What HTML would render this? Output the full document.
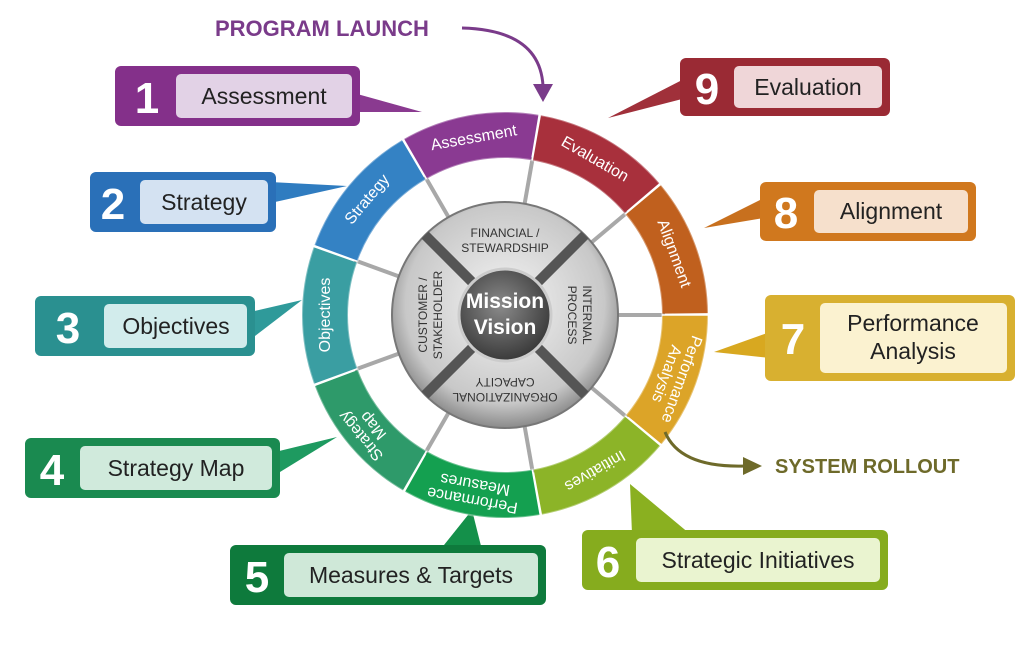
<!DOCTYPE html>
<html><head><meta charset="utf-8"><style>
html,body{margin:0;padding:0;background:#fff;}
svg{display:block;font-family:"Liberation Sans",sans-serif;}
</style></head><body>
<svg width="1024" height="649" viewBox="0 0 1024 649" xmlns="http://www.w3.org/2000/svg">
<defs>
<radialGradient id="hub" cx="50%" cy="45%" r="55%"><stop offset="0" stop-color="#f4f4f4"/><stop offset="0.8" stop-color="#c8c8c8"/><stop offset="1" stop-color="#8a8a8a"/></radialGradient>
<radialGradient id="mv" cx="45%" cy="40%" r="60%"><stop offset="0" stop-color="#8a8a8a"/><stop offset="1" stop-color="#3a3a3a"/></radialGradient>
</defs>

<g>
<polygon points="350,92 360,112 422,112" fill="#8a3a90"/>
<polygon points="270,182 275,202 347,186" fill="#2f7cc0"/>
<polygon points="250,312 255,336 302,300" fill="#2f9a9a"/>
<polygon points="275,452 280,472 337,437" fill="#1e9a60"/>
<polygon points="440,550 482,550 472,510" fill="#14904a"/>
<polygon points="632,534 690,534 630,484" fill="#8ab020"/>
<polygon points="770,332 770,358 714,352" fill="#d8a820"/>
<polygon points="764,198 764,218 704,228" fill="#c8701e"/>
<polygon points="686,78 686,98 608,118" fill="#a0303a"/>
</g>

<g>
<rect x="115" y="66" width="245" height="60" rx="6" fill="#84308a"/>
<text x="147" y="113" font-size="44" font-weight="bold" fill="#fff" text-anchor="middle">1</text>
<rect x="176" y="74" width="176" height="44" rx="5" fill="#e2d2e6"/>
<text x="264" y="104" font-size="23" fill="#222" text-anchor="middle">Assessment</text>

<rect x="90" y="172" width="186" height="60" rx="6" fill="#2a70b8"/>
<text x="113" y="219" font-size="44" font-weight="bold" fill="#fff" text-anchor="middle">2</text>
<rect x="140" y="180" width="128" height="44" rx="5" fill="#d4e2f2"/>
<text x="204" y="210" font-size="23" fill="#222" text-anchor="middle">Strategy</text>

<rect x="35" y="296" width="220" height="60" rx="6" fill="#2a9090"/>
<text x="68" y="343" font-size="44" font-weight="bold" fill="#fff" text-anchor="middle">3</text>
<rect x="104" y="304" width="143" height="44" rx="5" fill="#d2ecec"/>
<text x="176" y="334" font-size="23" fill="#222" text-anchor="middle">Objectives</text>

<rect x="25" y="438" width="255" height="60" rx="6" fill="#1a8a50"/>
<text x="52" y="485" font-size="44" font-weight="bold" fill="#fff" text-anchor="middle">4</text>
<rect x="80" y="446" width="192" height="44" rx="5" fill="#d0eadc"/>
<text x="176" y="476" font-size="23" fill="#222" text-anchor="middle">Strategy Map</text>

<rect x="230" y="545" width="316" height="60" rx="6" fill="#0e7a3c"/>
<text x="257" y="592" font-size="44" font-weight="bold" fill="#fff" text-anchor="middle">5</text>
<rect x="284" y="553" width="254" height="44" rx="5" fill="#cfe8d8"/>
<text x="411" y="583" font-size="23" fill="#222" text-anchor="middle">Measures &amp; Targets</text>

<rect x="582" y="530" width="306" height="60" rx="6" fill="#86ac1e"/>
<text x="608" y="577" font-size="44" font-weight="bold" fill="#fff" text-anchor="middle">6</text>
<rect x="636" y="538" width="244" height="44" rx="5" fill="#eaf4d0"/>
<text x="758" y="568" font-size="23" fill="#222" text-anchor="middle">Strategic Initiatives</text>

<rect x="765" y="295" width="250" height="86" rx="6" fill="#d8b030"/>
<text x="793" y="354" font-size="44" font-weight="bold" fill="#fff" text-anchor="middle">7</text>
<rect x="820" y="303" width="187" height="70" rx="5" fill="#fbf2d0"/>
<text x="913" y="331" font-size="23" fill="#222" text-anchor="middle">Performance</text>
<text x="913" y="359" font-size="23" fill="#222" text-anchor="middle">Analysis</text>

<rect x="760" y="182" width="216" height="59" rx="6" fill="#d0781e"/>
<text x="786" y="228" font-size="44" font-weight="bold" fill="#fff" text-anchor="middle">8</text>
<rect x="814" y="190" width="154" height="43" rx="5" fill="#f6e0cc"/>
<text x="891" y="219" font-size="23" fill="#222" text-anchor="middle">Alignment</text>

<rect x="680" y="58" width="210" height="58" rx="6" fill="#9a2a34"/>
<text x="707" y="104" font-size="44" font-weight="bold" fill="#fff" text-anchor="middle">9</text>
<rect x="734" y="66" width="148" height="42" rx="5" fill="#efd6d8"/>
<text x="808" y="95" font-size="23" fill="#222" text-anchor="middle">Evaluation</text>
</g>

<g transform="translate(505,315)">
 <g stroke="#a8a8a8" stroke-width="4">
  <line x1="0" y1="0" x2="160" y2="0" transform="rotate(-120)"/>
  <line x1="0" y1="0" x2="160" y2="0" transform="rotate(-80)"/>
  <line x1="0" y1="0" x2="160" y2="0" transform="rotate(-40)"/>
  <line x1="0" y1="0" x2="160" y2="0" transform="rotate(0)"/>
  <line x1="0" y1="0" x2="160" y2="0" transform="rotate(40)"/>
  <line x1="0" y1="0" x2="160" y2="0" transform="rotate(80)"/>
  <line x1="0" y1="0" x2="160" y2="0" transform="rotate(120)"/>
  <line x1="0" y1="0" x2="160" y2="0" transform="rotate(160)"/>
  <line x1="0" y1="0" x2="160" y2="0" transform="rotate(200)"/>
 </g>
 <g fill="none" stroke-width="46">
  <circle r="180" stroke="#8a3a92" stroke-dasharray="124 1007" transform="rotate(-120)"/>
  <circle r="180" stroke="#a8303c" stroke-dasharray="124 1007" transform="rotate(-80)"/>
  <circle r="180" stroke="#c0601e" stroke-dasharray="124 1007" transform="rotate(-40)"/>
  <circle r="180" stroke="#dca428" stroke-dasharray="124 1007" transform="rotate(0)"/>
  <circle r="180" stroke="#8cb428" stroke-dasharray="124 1007" transform="rotate(40)"/>
  <circle r="180" stroke="#14a050" stroke-dasharray="124 1007" transform="rotate(80)"/>
  <circle r="180" stroke="#2e9a6a" stroke-dasharray="124 1007" transform="rotate(120)"/>
  <circle r="180" stroke="#3a9ea2" stroke-dasharray="124 1007" transform="rotate(160)"/>
  <circle r="180" stroke="#3482c4" stroke-dasharray="124 1007" transform="rotate(200)"/>
 </g>
 <g stroke="#ffffff" stroke-width="1.5">
  <line x1="157" y1="0" x2="203" y2="0" transform="rotate(-120)"/>
  <line x1="157" y1="0" x2="203" y2="0" transform="rotate(-80)"/>
  <line x1="157" y1="0" x2="203" y2="0" transform="rotate(-40)"/>
  <line x1="157" y1="0" x2="203" y2="0" transform="rotate(0)"/>
  <line x1="157" y1="0" x2="203" y2="0" transform="rotate(40)"/>
  <line x1="157" y1="0" x2="203" y2="0" transform="rotate(80)"/>
  <line x1="157" y1="0" x2="203" y2="0" transform="rotate(120)"/>
  <line x1="157" y1="0" x2="203" y2="0" transform="rotate(160)"/>
  <line x1="157" y1="0" x2="203" y2="0" transform="rotate(200)"/>
 </g>
 <g fill="none" stroke="#ffffff" stroke-opacity="0.35" stroke-width="2">
  <circle r="157"/><circle r="203"/>
 </g>
 <g fill="#fff" font-size="16" text-anchor="middle">
  <text transform="rotate(-100) translate(180,0) rotate(90)" y="5">Assessment</text>
  <text transform="rotate(-60) translate(180,0) rotate(90)" y="5">Evaluation</text>
  <text transform="rotate(-20) translate(180,0) rotate(90)" y="5">Alignment</text>
  <text transform="rotate(20) translate(180,0) rotate(90)" y="-3">Performance</text>
  <text transform="rotate(20) translate(180,0) rotate(90)" y="13">Analysis</text>
  <text transform="rotate(60) translate(180,0) rotate(90)" y="5">Initiatives</text>
  <text transform="rotate(100) translate(180,0) rotate(90)" y="-3">Performance</text>
  <text transform="rotate(100) translate(180,0) rotate(90)" y="13">Measures</text>
  <text transform="rotate(140) translate(180,0) rotate(90)" y="-3">Strategy</text>
  <text transform="rotate(140) translate(180,0) rotate(90)" y="13">Map</text>
  <text transform="rotate(180) translate(180,0) rotate(90)" y="5">Objectives</text>
  <text transform="rotate(220) translate(180,0) rotate(90)" y="5">Strategy</text>
 </g>
 <circle r="113" fill="url(#hub)" stroke="#777" stroke-width="2"/>
 <g stroke="#555" stroke-width="10">
  <line x1="-80" y1="-80" x2="80" y2="80"/>
  <line x1="80" y1="-80" x2="-80" y2="80"/>
 </g>
 <g fill="#333" font-size="12" text-anchor="middle">
  <text y="-78">FINANCIAL /</text><text y="-63">STEWARDSHIP</text>
  <text transform="rotate(90)" y="-78">INTERNAL</text><text transform="rotate(90)" y="-63">PROCESS</text>
  <text transform="rotate(180)" y="-78">ORGANIZATIONAL</text><text transform="rotate(180)" y="-63">CAPACITY</text>
  <text transform="rotate(-90)" y="-78">CUSTOMER /</text><text transform="rotate(-90)" y="-63">STAKEHOLDER</text>
 </g>
 <circle r="46" fill="url(#mv)" stroke="#ccc" stroke-width="3"/>
 <text y="-7" fill="#fff" font-size="21" font-weight="bold" text-anchor="middle">Mission</text>
 <text y="19" fill="#fff" font-size="21" font-weight="bold" text-anchor="middle">Vision</text>
</g>

<text x="215" y="36" font-size="22" font-weight="bold" fill="#7a3b8a">PROGRAM LAUNCH</text>
<path d="M462,28 Q540,30 543,86" fill="none" stroke="#7a3b8a" stroke-width="3"/>
<polygon points="533,84 553,84 543,102" fill="#7a3b8a"/>

<path d="M665,432 Q680,468 745,466" fill="none" stroke="#6e6a2a" stroke-width="3"/>
<polygon points="743,457 762,466 743,475" fill="#6e6a2a"/>
<text x="775" y="473" font-size="20" font-weight="bold" fill="#6e6a2a">SYSTEM ROLLOUT</text>
</svg>
</body></html>
